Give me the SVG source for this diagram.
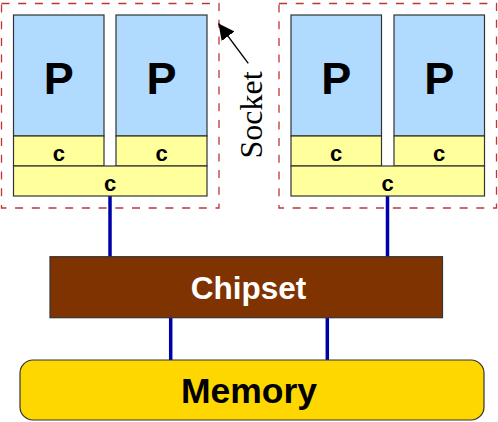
<svg xmlns="http://www.w3.org/2000/svg" width="498" height="422" viewBox="0 0 498 422">
<defs>
<style>
.sock{fill:none;stroke:#c03436;stroke-width:1.3;stroke-dasharray:8,8.7}
.p{fill:#b0dbff;stroke:#333;stroke-width:1.2}
.c{fill:#ffff9c;stroke:#333;stroke-width:1.2}
.pt{font-family:"Liberation Sans",Arial,sans-serif;font-weight:bold;font-size:45px;text-anchor:middle;fill:#000}
.ct{font-family:"Liberation Sans",Arial,sans-serif;font-weight:bold;font-size:22px;text-anchor:middle;fill:#000}
.bus{stroke:#0000aa;stroke-width:3.5;fill:none}
</style>
<marker id="ah" viewBox="0 0 10 10" refX="10" refY="5" markerWidth="16" markerHeight="16" markerUnits="userSpaceOnUse" orient="auto">
<path d="M0,0 L10,5 L0,10 z" fill="#000"/>
</marker>
</defs>
<g id="connectors">
<line class="bus" x1="110" y1="196" x2="110" y2="257"/>
<line class="bus" x1="387.5" y1="196" x2="387.5" y2="257"/>
<line class="bus" x1="170.7" y1="318" x2="170.7" y2="360"/>
<line class="bus" x1="327.3" y1="318" x2="327.3" y2="360"/>
</g>
<g id="socket1">
<rect class="sock" x="1.5" y="3.5" width="217.5" height="204.5"/>
<rect class="p" x="13.5" y="15" width="90.5" height="121"/>
<text class="pt" x="58.8" y="94.3">P</text>
<rect class="p" x="116" y="15" width="91" height="121"/>
<text class="pt" x="161.5" y="94.3">P</text>
<rect class="c" x="13.5" y="136" width="90.5" height="30"/>
<text class="ct" x="58.8" y="160.7">c</text>
<rect class="c" x="116" y="136" width="91" height="30"/>
<text class="ct" x="161.5" y="160.7">c</text>
<rect class="c" x="13.5" y="166" width="193.5" height="30"/>
<text class="ct" x="110.2" y="190.5">c</text>
</g>
<g id="socket2">
<rect class="sock" x="279" y="3.5" width="217.5" height="204.5"/>
<rect class="p" x="291" y="15" width="90.5" height="121"/>
<text class="pt" x="336.2" y="94.3">P</text>
<rect class="p" x="394" y="15" width="90.5" height="121"/>
<text class="pt" x="439.2" y="94.3">P</text>
<rect class="c" x="291" y="136" width="90.5" height="30"/>
<text class="ct" x="336.2" y="160.7">c</text>
<rect class="c" x="394" y="136" width="90.5" height="30"/>
<text class="ct" x="439.2" y="160.7">c</text>
<rect class="c" x="291" y="166" width="193.5" height="30"/>
<text class="ct" x="387.7" y="190.5">c</text>
</g>
<g id="socket-label">
<line x1="248.3" y1="63.3" x2="218.5" y2="23.5" stroke="#000" stroke-width="1.3" marker-end="url(#ah)"/>
<text transform="translate(262,115) rotate(-90)" text-anchor="middle" font-family="'Liberation Serif','Times New Roman',serif" font-size="32px" fill="#000">Socket</text>
</g>
<g id="chipset">
<rect x="50" y="256.7" width="392.5" height="61" fill="#7f3300" stroke="#333" stroke-width="1.2"/>
<text x="248.5" y="299" text-anchor="middle" font-family="'Liberation Sans',Arial,sans-serif" font-weight="bold" font-size="31.5px" fill="#fff">Chipset</text>
</g>
<g id="memory">
<rect x="20" y="360" width="464" height="60" rx="13" ry="13" fill="#ffd700" stroke="#333" stroke-width="1.2"/>
<text x="249" y="402.7" text-anchor="middle" font-family="'Liberation Sans',Arial,sans-serif" font-weight="bold" font-size="35.5px" fill="#000">Memory</text>
</g>
</svg>
